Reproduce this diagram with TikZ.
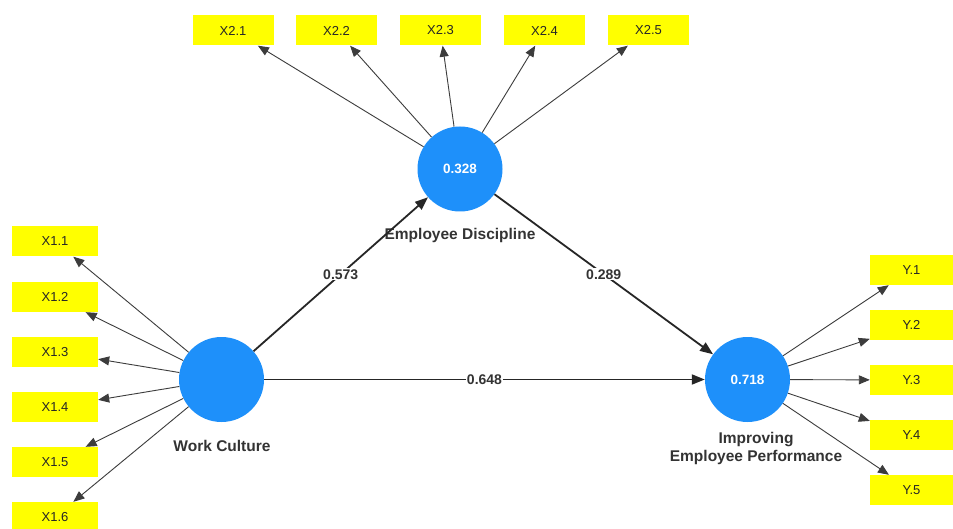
\documentclass[tikz,border=0pt]{standalone}
\usepackage{fontspec}
\setmainfont{Liberation Sans}
\usetikzlibrary{arrows.meta}
\definecolor{lvblue}{RGB}{30,144,250}
\definecolor{indyellow}{RGB}{255,255,0}
\definecolor{linegray}{RGB}{60,60,60}
\begin{document}
\begin{tikzpicture}[x=1pt,y=-1pt,
 latent/.style={circle,fill=lvblue,minimum size=85pt,inner sep=0pt,text=white,font=\fontsize{13.5}{15}\selectfont\bfseries},
 indbox/.style={rectangle,fill=indyellow,minimum height=30pt,inner sep=0pt,font=\fontsize{13}{15}\selectfont,text=black!85},
 topbox/.style={indbox,minimum width=81pt},
 leftbox/.style={indbox,minimum width=86pt},
 rightbox/.style={indbox,minimum width=83pt},
 outarrow/.style={draw=linegray,line width=0.9pt,-{Triangle[length=11pt,width=9pt]}},
 patharrow/.style={draw=black!85,line width=1.8pt,-{Triangle[length=13pt,width=10pt]}},
 pathlabel/.style={fill=white,inner sep=1pt,font=\fontsize{14}{16}\selectfont\bfseries,text=black!80},
 latlabel/.style={font=\fontsize{15.5}{18}\selectfont\bfseries,text=black!80,align=center}
]
\useasboundingbox[fill=white] (0,0) rectangle (953,529);

% latent variables
\node[latent] (wc) at (221.5,379.5) {};
\node[latent] (ed) at (460,169) {0.328};
\node[latent] (iep) at (747.5,379.5) {0.718};

\node[latlabel] (wcl) at (222,446) {Work Culture};
\node[latlabel] (edl) at (460,235) {Employee Discipline};
\node[latlabel] (iepl) at (756,448) {Improving\\Employee Performance};

% top indicators
\node[topbox] (x21) at (233,30.5) {X2.1};
\node[topbox] (x22) at (336.5,30.5) {X2.2};
\node[topbox] (x23) at (440.5,30.5) {X2.3};
\node[topbox] (x24) at (544.5,30.5) {X2.4};
\node[topbox] (x25) at (648.5,30.5) {X2.5};

% left indicators
\node[leftbox] (x11) at (55,241.5) {X1.1};
\node[leftbox] (x12) at (55,297) {X1.2};
\node[leftbox] (x13) at (55,352) {X1.3};
\node[leftbox] (x14) at (55,407) {X1.4};
\node[leftbox] (x15) at (55,462) {X1.5};
\node[leftbox] (x16) at (55,517) {X1.6};

% right indicators
\node[rightbox] (y1) at (911.5,270) {Y.1};
\node[rightbox] (y2) at (911.5,325) {Y.2};
\node[rightbox] (y3) at (911.5,380) {Y.3};
\node[rightbox] (y4) at (911.5,435) {Y.4};
\node[rightbox] (y5) at (911.5,490) {Y.5};

% outer arrows
\foreach \t in {x21,x22,x23,x24,x25} \draw[outarrow] (ed) -- (\t);
\foreach \t in {x11,x12,x13,x14,x15,x16} \draw[outarrow] (wc) -- (\t);
\foreach \t in {y1,y2,y3,y4,y5} \draw[outarrow] (iep) -- (\t);

% structural paths
\draw[patharrow] (wc) -- (ed);
\draw[patharrow] (ed) -- (iep);
\draw[patharrow] (wc) -- (iep);
\path (wc) -- node[pathlabel] (p1) {0.573} (ed);
\path (ed) -- node[pathlabel] (p2) {0.289} (iep);
\path (wc) -- node[pathlabel] (p3) {0.648} (iep);
\end{tikzpicture}
\end{document}
